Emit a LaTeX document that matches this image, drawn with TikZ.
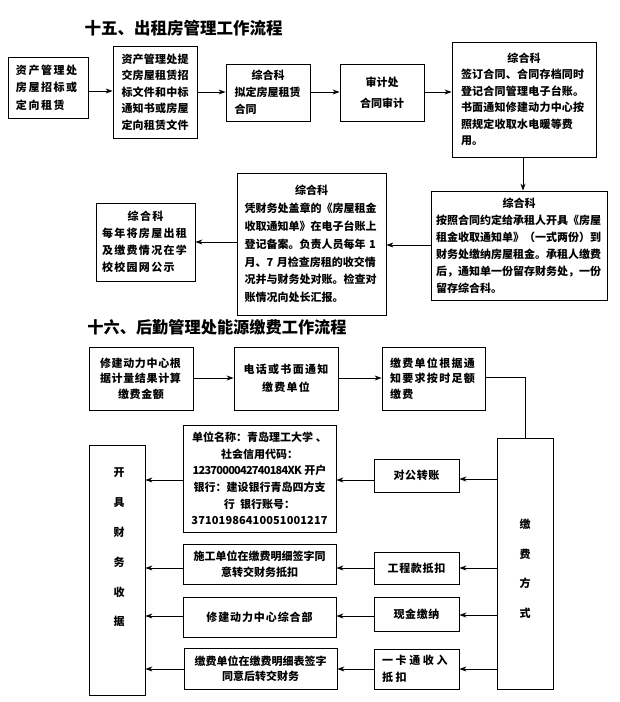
\documentclass[tikz,border=0pt]{standalone}
\usepackage{fontspec}
\setmainfont{Noto Sans CJK SC}
\usetikzlibrary{arrows.meta}
\newcommand\fs[2]{\fontsize{#1pt}{#2pt}\selectfont\bfseries}
\newcommand\ls[1]{\addfontfeature{LetterSpace=#1}}
\tikzset{
  bx/.style={draw, line width=0.8pt, inner sep=0pt},
  arr/.style={line width=0.8pt, -{Stealth[length=7pt,width=5pt]}},
  ln/.style={line width=0.8pt},
  ttl/.style={inner sep=0pt},
}
\begin{document}
\begin{tikzpicture}[x=1pt,y=-1pt]
\fill[white] (0,0) rectangle (619,702);
\useasboundingbox (0,0) rectangle (619,702);

% ---------- Section 15 ----------
\node[ttl, font=\fs{16.5}{20}] (T1) at (183.5,28) {十五、出租房管理工作流程};

\node[bx, minimum width=80pt, minimum height=61pt, text width=64pt, align=left, font={\fs{11}{17.5}\ls{14}}] (A1) at (48,87.5)
  {资产管理处\\房屋招标或\\定向租赁};
\node[bx, minimum width=84pt, minimum height=92pt, text width=67pt, align=left, font={\fs{11}{16.5}\ls{2}}] (A2) at (155,92)
  {资产管理处提\\交房屋租赁招\\标文件和中标\\通知书或房屋\\定向租赁文件};
\node[bx, minimum width=84pt, minimum height=57pt, text width=67pt, align=left, font={\fs{11}{17}}] (A3) at (268,92.5)
  {\makebox[67pt]{综合科}\\拟定房屋租赁\\合同};
\node[bx, minimum width=84pt, minimum height=57pt, align=center, font={\fs{11}{21}}] (A4) at (382,92.5)
  {审计处\\合同审计};
\node[bx, minimum width=144pt, minimum height=115pt, text width=126pt, align=left, font={\fs{11}{16.5}\ls{2}}] (A5) at (524,99.5)
  {\makebox[126pt]{综合科}\\签订合同、合同存档同时\\登记合同管理电子台账。\\书面通知修建动力中心按\\照规定收取水电暖等费\\用。};
\node[bx, minimum width=176pt, minimum height=109pt, text width=166pt, align=left, font={\fs{11}{17}}] (A6) at (519,245.5)
  {\makebox[166pt]{综合科}\\按照合同约定给承租人开具《房屋\\租金收取通知单》（一式两份）到\\财务处缴纳房屋租金。承租人缴费\\后，通知单一份留存财务处，一份\\留存综合科。};
\node[bx, minimum width=149pt, minimum height=142pt, text width=134pt, align=left, font={\fs{11}{17.8}}] (A7) at (311.5,244)
  {\makebox[134pt]{综合科}\\凭财务处盖章的《房屋租金\\收取通知单》在电子台账上\\登记备案。负责人员每年 1\\月、7 月检查房租的收交情\\况并与财务处对账。检查对\\账情况向处长汇报。};
\node[bx, minimum width=99pt, minimum height=78pt, text width=87pt, align=left, font={\fs{11}{17}\ls{12}}] (A8) at (145.5,242)
  {\makebox[87pt]{综合科}\\每年将房屋出租\\及缴费情况在学\\校校园网公示};

\draw[arr] (A1.east |- 0,91) -- (A2.west |- 0,91);
\draw[arr] (A2.east |- 0,92) -- (A3.west |- 0,92);
\draw[arr] (A3.east |- 0,92) -- (A4.west |- 0,92);
\draw[arr] (A4.east |- 0,92) -- (A5.west |- 0,92);
\draw[arr] (A5.south -| 523,0) -- (A6.north -| 523,0);
\draw[arr] (A6.west |- 0,245) -- (A7.east |- 0,245);
\draw[arr] (A7.west |- 0,242) -- (A8.east |- 0,242);

% ---------- Section 16 ----------
\node[ttl, font=\fs{16.2}{20}] (T2) at (217,327) {十六、后勤管理处能源缴费工作流程};

\node[bx, minimum width=104pt, minimum height=63pt, text width=82pt, align=left, font={\fs{11}{15.5}\ls{6}}] (B1) at (141,378.5)
  {修建动力中心根\\据计量结果计算\\\makebox[82pt]{缴费金额}};
\node[bx, minimum width=104pt, minimum height=63pt, align=center, font={\fs{11}{18}\ls{12}}] (B2) at (286,378.5)
  {电话或书面通知\\缴费单位};
\node[bx, minimum width=103pt, minimum height=63pt, text width=87pt, align=left, font={\fs{11}{15.5}\ls{12}}] (B3) at (433.5,378.5)
  {缴费单位根据通\\知要求按时足额\\缴费};

\node[bx, minimum width=56pt, minimum height=251pt] (C) at (525,563.5) {};
\node[inner sep=0pt, align=center, font={\fs{11}{29.5}}] (Ct) at (525,569) {缴\\费\\方\\式};

\node[bx, minimum width=85pt, minimum height=33pt, font={\fs{11}{15}\ls{6}}] (D1) at (416.5,475.5) {对公转账};
\node[bx, minimum width=85pt, minimum height=32pt, font={\fs{11}{15}\ls{6}}] (D2) at (416.5,568) {工程款抵扣};
\node[bx, minimum width=85pt, minimum height=34pt, font={\fs{11}{15}\ls{6}}] (D3) at (416.5,614) {现金缴纳};
\node[bx, minimum width=85pt, minimum height=40pt, text width=69pt, align=left, font={\fs{11}{17}\ls{24}}] (D4) at (416.5,669)
  {一卡通收入\\抵扣};

\node[bx, minimum width=153pt, minimum height=107pt, align=center, font={\fs{11}{16.6}}] (E1) at (259.5,478.5)
  {单位名称：青岛理工大学 、\\社会信用代码：\\{\ls{-7}1237000042740184XK} 开户\\银行：建设银行青岛四方支\\行\ \ 银行账号：\\{\ls{1}37101986410051001217}};
\node[bx, minimum width=153pt, minimum height=40pt, align=center, font={\fs{11}{16}}] (E2) at (259.5,564)
  {施工单位在缴费明细签字同\\意转交财务抵扣};
\node[bx, minimum width=153pt, minimum height=40pt, align=center, font={\fs{11}{16}\ls{8}}] (E3) at (259.5,617)
  {修建动力中心综合部};
\node[bx, minimum width=153pt, minimum height=41pt, align=center, font={\fs{11}{15}}] (E4) at (260.5,668.5)
  {缴费单位在缴费明细表签字\\同意后转交财务};

\node[bx, minimum width=56pt, minimum height=250pt] (F) at (117,570) {};
\node[inner sep=0pt, align=center, font={\fs{11}{29.8}}] (Ft) at (119,547.5) {开\\具\\财\\务\\收\\据};

\draw[arr] (B1.east |- 0,378) -- (B2.west |- 0,378);
\draw[arr] (B2.east |- 0,378) -- (B3.west |- 0,378);
\draw[ln] (B3.east |- 0,377) -| (C.north);

\draw[arr] (C.west |- 0,479) -- (D1.east |- 0,479);
\draw[arr] (C.west |- 0,568) -- (D2.east |- 0,568);
\draw[arr] (C.west |- 0,615) -- (D3.east |- 0,615);
\draw[arr] (C.west |- 0,669) -- (D4.east |- 0,669);

\draw[arr] (D1.west |- 0,480) -- (E1.east |- 0,480);
\draw[arr] (D2.west |- 0,568) -- (E2.east |- 0,568);
\draw[arr] (D3.west |- 0,616) -- (E3.east |- 0,616);
\draw[arr] (D4.west |- 0,669) -- (E4.east |- 0,669);

\draw[arr] (E1.west |- 0,480) -- (F.east |- 0,480);
\draw[arr] (E2.west |- 0,568) -- (F.east |- 0,568);
\draw[arr] (E3.west |- 0,616) -- (F.east |- 0,616);
\draw[arr] (E4.west |- 0,669) -- (F.east |- 0,669);
\end{tikzpicture}
\end{document}
